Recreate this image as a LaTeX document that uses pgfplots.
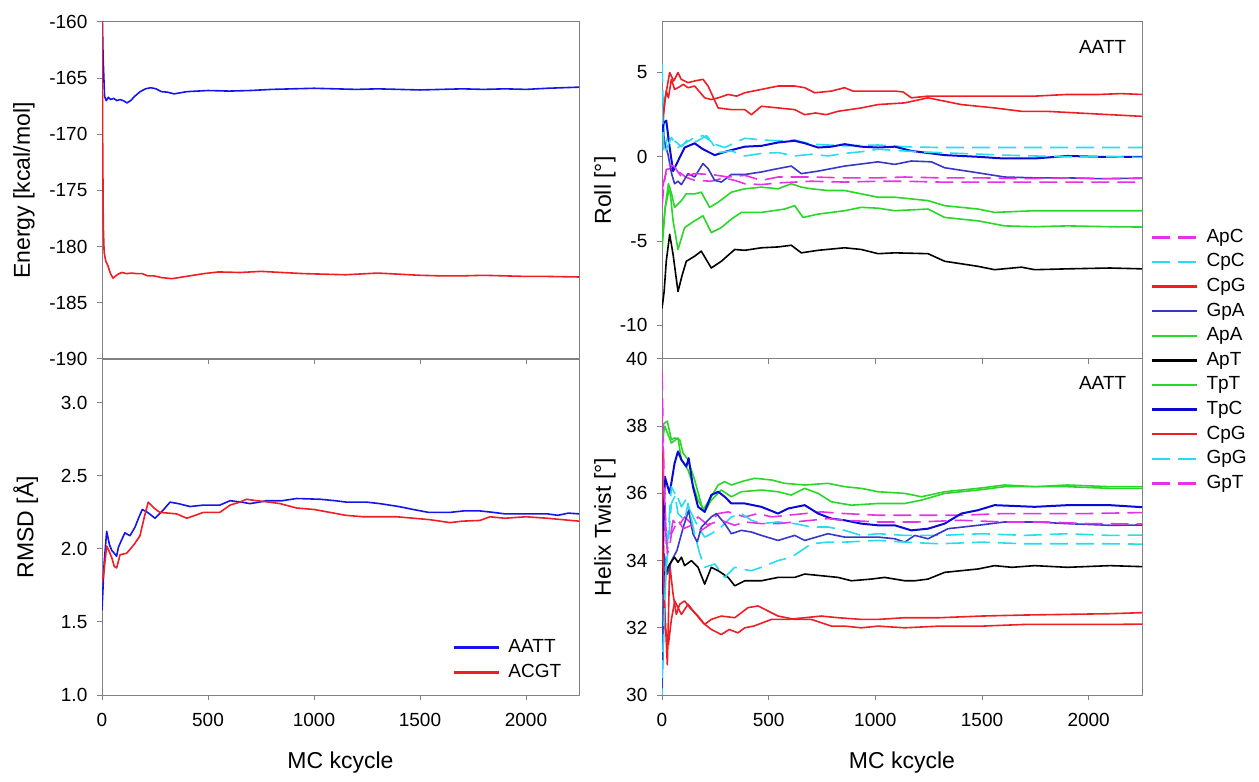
\documentclass[border=0pt]{standalone}
\usepackage{fontspec}
\setmainfont{Liberation Sans}
\usepackage{pgfplots}
\pgfplotsset{compat=1.18}

\definecolor{framegray}{RGB}{128,128,128}
\definecolor{cred}{RGB}{238,30,36}
\definecolor{cblue}{RGB}{20,20,235}
\definecolor{cgpa}{RGB}{55,55,200}
\definecolor{ctpc}{RGB}{10,10,215}
\definecolor{cgreen}{RGB}{40,215,40}
\definecolor{ccyan}{RGB}{40,220,240}
\definecolor{cmag}{RGB}{230,50,230}

\pgfplotsset{
  panel/.style={
    scale only axis,
    xmin=0, xmax=2250,
    xtick={0,500,1000,1500,2000},
    axis line style={framegray, line width=0.5pt},
    tick style={framegray, line width=0.5pt},
    tick align=outside,
    major tick length=2.5pt,
    xtick pos=left, ytick pos=left,
    clip mode=individual,
    ticklabel style={font=\fontsize{9.5}{11}\selectfont},
    xticklabel style={yshift=-3pt},
    yticklabel style={xshift=-1.3pt},
    label style={font=\fontsize{11.5}{13}\selectfont},
    /pgf/number format/assume math mode=true,
    /pgf/number format/1000 sep={},
    every axis plot/.append style={line width=0.8pt, line join=round},
    legend cell align=left,
    legend image code/.code={\draw[line width=1.15pt,##1] (0pt,0pt) -- (22.5pt,0pt); \path (26pt,0pt);},
  },
  dashedline/.style={dash pattern=on 9pt off 4pt},
}

\begin{document}
\begin{tikzpicture}
\path[use as bounding box] (0,0) rectangle (629.5pt,391pt);

% ---------------- Energy ----------------
\begin{axis}[panel,
  at={(51pt,211.5pt)}, anchor=south west,
  width=238.5pt, height=168.5pt,
  ymin=-190, ymax=-160, ytick={-190,-185,...,-160},
  xticklabels={},
  ylabel={Energy [kcal/mol]},
  ylabel style={at={(rel axis cs:-0.1635,0.5)}, anchor=center},
]
\addplot[cblue] coordinates {
(0,-158) (5,-163) (12,-166.6) (20,-167.0) (30,-166.7) (40,-166.9) (55,-166.8) (70,-167.0)
(85,-166.9) (100,-167.0) (118,-167.2) (135,-167.0) (155,-166.6) (180,-166.2) (205,-165.95)
(230,-165.85) (255,-165.95) (280,-166.2) (310,-166.25) (340,-166.4) (370,-166.3) (400,-166.2)
(450,-166.15) (500,-166.1) (600,-166.15) (700,-166.1) (800,-166.0) (900,-165.95) (1000,-165.9)
(1100,-165.95) (1200,-166.0) (1300,-165.95) (1400,-166.0) (1500,-166.05) (1600,-166.0)
(1700,-165.95) (1800,-166.0) (1900,-165.95) (2000,-166.0) (2100,-165.9) (2250,-165.8)
};
\addplot[cred] coordinates {
(0,-158) (3,-170) (6,-178) (10,-180.5) (18,-181.3) (28,-181.7) (40,-182.4) (52,-182.8)
(65,-182.6) (80,-182.4) (95,-182.3) (115,-182.4) (140,-182.35) (165,-182.4) (190,-182.4)
(215,-182.6) (245,-182.6) (280,-182.75) (330,-182.85) (380,-182.7) (430,-182.55) (480,-182.4)
(550,-182.25) (650,-182.3) (750,-182.2) (850,-182.3) (950,-182.4) (1050,-182.45) (1150,-182.5)
(1300,-182.35) (1400,-182.45) (1500,-182.55) (1600,-182.6) (1700,-182.6) (1800,-182.55)
(1900,-182.6) (2000,-182.65) (2100,-182.65) (2250,-182.7)
};
\end{axis}

% ---------------- RMSD ----------------
\begin{axis}[panel,
  at={(51pt,43.5pt)}, anchor=south west,
  width=238.5pt, height=168pt,
  ymin=1.0, ymax=3.3, ytick={1.0,1.5,2.0,2.5,3.0},
  yticklabel style={/pgf/number format/.cd, fixed, fixed zerofill, precision=1},
  xlabel={MC kcycle},
  xlabel style={at={(rel axis cs:0.5,-0.2024)}, anchor=center},
  ylabel={RMSD [Å]},
  ylabel style={at={(rel axis cs:-0.16,0.5)}, anchor=center},
  legend style={at={(rel axis cs:0.734,0.1756)}, anchor=north west, draw=none, fill=none,
    inner sep=0pt, font=\fontsize{9.5}{11}\selectfont, row sep=1.5pt,
    nodes={inner sep=1pt, text height=7pt, text depth=2pt}},
]
\addplot[cblue] coordinates {
(0,1.58) (10,1.9) (22,2.12) (35,2.03) (46,1.99) (58,1.97) (69,1.95) (77,2.01) (92,2.06)
(108,2.11) (132,2.09) (156,2.15) (175,2.22) (190,2.27) (215,2.25) (250,2.21) (285,2.26)
(321,2.32) (360,2.31) (415,2.29) (480,2.30) (556,2.30) (604,2.33) (660,2.32) (698,2.31)
(740,2.32) (777,2.33) (850,2.33) (918,2.345) (1028,2.34) (1100,2.33) (1154,2.32) (1250,2.32)
(1311,2.31) (1400,2.29) (1468,2.27) (1540,2.25) (1594,2.25) (1642,2.25) (1705,2.26)
(1783,2.26) (1846,2.25) (1900,2.24) (2000,2.24) (2100,2.24) (2150,2.23) (2200,2.245) (2250,2.24)
};
\addlegendentry{AATT}
\addplot[cred] coordinates {
(0,1.77) (8,1.83) (22,2.02) (35,1.98) (46,1.94) (58,1.88) (69,1.87) (80,1.93) (85,1.96)
(116,1.97) (140,2.01) (156,2.04) (179,2.09) (200,2.22) (218,2.32) (245,2.28) (273,2.25)
(352,2.24) (400,2.21) (440,2.23) (478,2.25) (556,2.25) (604,2.30) (650,2.32) (682,2.34)
(730,2.33) (790,2.32) (840,2.31) (918,2.28) (1000,2.27) (1075,2.25) (1150,2.23) (1233,2.22)
(1300,2.22) (1390,2.22) (1470,2.21) (1547,2.20) (1642,2.18) (1700,2.19) (1783,2.195)
(1830,2.22) (1900,2.21) (2000,2.22) (2100,2.21) (2250,2.19)
};
\addlegendentry{ACGT}
\end{axis}

% ---------------- Roll ----------------
\begin{axis}[panel,
  at={(331pt,211.5pt)}, anchor=south west,
  width=240pt, height=168.5pt,
  ymin=-12, ymax=8, ytick={-10,-5,0,5},
  xticklabels={},
  ylabel={Roll [°]},
  ylabel style={at={(rel axis cs:-0.119,0.5)}, anchor=center},
  legend style={at={(rel axis cs:1.0167,0.3947)}, anchor=north west, draw=none, fill=none,
    inner sep=0pt, font=\fontsize{9.5}{11}\selectfont, row sep=1.3pt,
    nodes={inner sep=1pt, text height=7pt, text depth=2pt}},
]
% ApC
\addplot[cmag, dashedline] coordinates {
(0,-3) (8,-1.8) (20,-0.75) (40,-0.7) (75,-0.85) (110,-1.2) (153,-1.4) (231,-1.45) (290,-1.25)
(341,-1.4) (388,-1.6) (466,-1.65) (544,-1.55) (700,-1.45) (856,-1.5) (1013,-1.45) (1138,-1.45)
(1300,-1.5) (1500,-1.5) (1700,-1.5) (1900,-1.5) (2100,-1.5) (2250,-1.5)
};
\addlegendentry{ApC}
% CpC
\addplot[ccyan, dashedline] coordinates {
(0,5.5) (8,2.0) (13,0.55) (28,1.25) (59,0.95) (91,0.6) (122,1.05) (160,0.9) (208,1.25)
(247,0.75) (294,0.55) (388,1.1) (466,1.0) (544,0.95) (622,1.0) (700,0.75) (856,0.65)
(1013,0.7) (1138,0.6) (1300,0.55) (1500,0.55) (1700,0.55) (1900,0.55) (2100,0.55) (2250,0.55)
};
\addlegendentry{CpC}
% CpG
\addplot[cred] coordinates {
(0,1.5) (15,3.5) (36,5.0) (55,4.5) (75,5.0) (90,4.6) (122,4.4) (153,4.5) (192,4.6) (216,4.2)
(263,2.9) (325,2.8) (388,2.8) (419,2.5) (466,3.0) (544,2.9) (622,2.8) (669,2.5) (720,2.6)
(770,2.5) (825,2.7) (934,2.9) (1013,3.1) (1138,3.2) (1247,3.5) (1403,3.1) (1559,2.9)
(1685,2.7) (1800,2.7) (1950,2.6) (2100,2.5) (2250,2.4)
};
\addlegendentry{CpG}
% GpA
\addplot[cgpa] coordinates {
(0,2.0) (6,1.5) (13,0.8) (28,0.15) (45,-1.0) (59,-1.6) (75,-1.45) (91,-1.65) (122,-1.0)
(153,-1.2) (192,-0.4) (216,-0.7) (247,-1.4) (278,-1.5) (325,-1.05) (388,-1.05) (466,-0.9)
(544,-0.7) (606,-0.55) (653,-1.0) (732,-0.85) (856,-0.55) (1013,-0.3) (1091,-0.45)
(1169,-0.25) (1263,-0.3) (1325,-0.65) (1481,-0.95) (1606,-1.2) (1747,-1.25) (1900,-1.25)
(2050,-1.3) (2250,-1.27)
};
\addlegendentry{GpA}
% ApA
\addplot[cgreen] coordinates {
(0,-5.5) (15,-3.0) (36,-1.8) (52,-3.8) (75,-5.5) (106,-4.2) (153,-3.8) (192,-3.5) (231,-4.5)
(278,-4.2) (325,-3.7) (372,-3.3) (466,-3.3) (575,-3.1) (622,-2.9) (661,-3.6) (732,-3.4)
(856,-3.2) (934,-3.0) (1013,-3.05) (1091,-3.2) (1247,-3.1) (1325,-3.6) (1481,-3.8)
(1606,-4.1) (1747,-4.15) (1900,-4.1) (2100,-4.15) (2250,-4.17)
};
\addlegendentry{ApA}
% ApT
\addplot[black] coordinates {
(0,-9.0) (10,-8.0) (20,-6.2) (36,-4.6) (52,-5.8) (75,-8.0) (95,-7.0) (114,-6.2) (153,-5.9)
(184,-5.6) (231,-6.6) (278,-6.2) (341,-5.5) (388,-5.55) (466,-5.4) (544,-5.35) (606,-5.25)
(653,-5.7) (732,-5.55) (856,-5.4) (934,-5.5) (1013,-5.75) (1091,-5.7) (1247,-5.75)
(1325,-6.2) (1481,-6.5) (1559,-6.7) (1685,-6.55) (1747,-6.7) (1900,-6.65) (2100,-6.6) (2250,-6.65)
};
\addlegendentry{ApT}
% TpT
\addplot[cgreen] coordinates {
(0,-5.0) (15,-3.0) (30,-1.6) (45,-2.2) (59,-3.0) (91,-2.6) (114,-2.2) (153,-2.2) (184,-2.1)
(223,-3.0) (263,-2.7) (325,-2.1) (388,-1.9) (466,-1.8) (544,-1.9) (606,-1.6) (653,-1.8)
(700,-1.9) (778,-2.0) (856,-2.0) (934,-2.2) (1013,-2.4) (1091,-2.4) (1247,-2.6) (1325,-2.9)
(1481,-3.1) (1559,-3.3) (1747,-3.2) (1900,-3.2) (2100,-3.2) (2250,-3.2)
};
\addlegendentry{TpT}
% TpC
\addplot[ctpc, line width=1.0pt] coordinates {
(0,1.5) (8,2.0) (20,2.15) (36,0.55) (52,-0.85) (75,-0.25) (106,0.55) (153,0.8) (192,0.45)
(247,0.1) (310,0.35) (388,0.6) (466,0.65) (544,0.85) (622,0.95) (670,0.8) (732,0.55)
(794,0.6) (856,0.75) (934,0.6) (1013,0.55) (1091,0.6) (1169,0.35) (1325,0.1) (1481,0.0)
(1600,-0.1) (1747,-0.1) (1900,0.05) (2050,0.0) (2250,0.0)
};
\addlegendentry{TpC}
% CpG
\addplot[cred] coordinates {
(0,2.0) (20,3.9) (30,3.5) (44,4.6) (59,4.0) (75,4.1) (100,4.3) (122,4.1) (153,4.2) (200,3.5)
(231,3.4) (263,3.5) (310,3.7) (350,3.6) (388,3.8) (466,4.0) (544,4.2) (622,4.2) (669,4.1)
(716,3.8) (794,3.9) (856,4.1) (895,3.9) (934,3.9) (1013,3.9) (1091,3.9) (1130,3.85)
(1169,3.5) (1247,3.6) (1481,3.6) (1747,3.6) (1900,3.7) (2050,3.7) (2150,3.75) (2250,3.7)
};
\addlegendentry{CpG}
% GpG
\addplot[ccyan, dashedline] coordinates {
(0,3) (10,0.15) (44,1.15) (75,0.55) (153,1.15) (192,1.25) (231,0.9) (263,0.25) (325,0.35)
(388,0.05) (466,0.2) (544,0.25) (622,0.05) (700,0.15) (778,0.05) (856,0.2) (934,0.3)
(1013,0.45) (1091,0.38) (1200,0.3) (1400,0.2) (1600,0.1) (1747,0.05) (1900,0.0) (2100,0.0) (2250,-0.04)
};
\addlegendentry{GpG}
% GpT
\addplot[cmag, dashedline] coordinates {
(0,-2) (13,-1.2) (36,-0.45) (59,-0.6) (91,-1.2) (153,-1.0) (231,-1.05) (310,-1.2) (388,-1.1)
(466,-1.4) (544,-1.2) (700,-1.2) (856,-1.25) (1013,-1.25) (1138,-1.2) (1300,-1.25)
(1500,-1.25) (1700,-1.3) (1900,-1.25) (2100,-1.3) (2250,-1.27)
};
\addlegendentry{GpT}
\node[font=\fontsize{9.5}{11}\selectfont] at (rel axis cs:0.918,0.926) {AATT};
\end{axis}

% ---------------- Helix Twist ----------------
\begin{axis}[panel,
  at={(331pt,43.5pt)}, anchor=south west,
  width=240pt, height=168pt,
  ymin=30, ymax=40, ytick={30,32,...,40},
  xlabel={MC kcycle},
  xlabel style={at={(rel axis cs:0.5,-0.2024)}, anchor=center},
  ylabel={Helix Twist [°]},
  ylabel style={at={(rel axis cs:-0.119,0.5)}, anchor=center},
]
% ApC
\addplot[cmag, dashedline] coordinates {
(0,39.6) (8,37) (20,34.5) (36,34.6) (52,35.2) (75,35.0) (106,35.3) (138,35.1) (169,35.3)
(216,35.05) (263,35.4) (310,35.45) (388,35.3) (450,35.4) (513,35.3) (591,35.35) (669,35.4)
(747,35.45) (856,35.4) (1013,35.35) (1200,35.35) (1400,35.35) (1600,35.4) (1800,35.4)
(2000,35.4) (2250,35.43)
};
% CpC
\addplot[ccyan, dashedline] coordinates {
(0,30) (13,33.0) (28,34.4) (44,35.7) (67,36.0) (91,35.6) (110,35.8) (138,35.4) (170,35.0)
(200,34.7) (231,34.8) (278,35.0) (325,35.3) (372,35.4) (419,35.2) (466,35.1) (544,35.15)
(622,35.1) (700,35.0) (778,35.0) (856,34.9) (934,34.75) (1013,34.8) (1138,34.75) (1300,34.75)
(1500,34.8) (1700,34.75) (1900,34.8) (2100,34.75) (2250,34.76)
};
% CpG
\addplot[cred] coordinates {
(0,37.5) (10,33) (25,30.9) (36,33.9) (52,33.0) (67,32.4) (83,32.7) (106,32.8) (130,32.6)
(169,32.35) (200,32.1) (231,32.25) (278,32.35) (341,32.3) (403,32.6) (450,32.65) (497,32.5)
(544,32.35) (622,32.25) (700,32.25) (747,32.15) (794,32.05) (856,32.05) (934,32.0)
(1013,32.05) (1138,32.0) (1300,32.05) (1500,32.05) (1700,32.1) (1900,32.1) (2100,32.1) (2250,32.11)
};
% GpA
\addplot[cgpa] coordinates {
(0,30.2) (10,34.2) (25,33.6) (45,34.0) (70,34.3) (100,35.0) (125,35.5) (145,34.8) (165,34.55)
(185,35.0) (231,35.3) (255,35.4) (294,35.1) (325,34.8) (372,34.9) (419,34.85) (466,34.75)
(544,34.6) (622,34.75) (669,34.6) (778,34.8) (856,34.7) (1013,34.7) (1091,34.65) (1138,34.55)
(1185,34.75) (1247,34.65) (1341,34.95) (1481,35.05) (1606,35.15) (1750,35.15) (1900,35.1)
(2100,35.05) (2250,35.06)
};
% ApA
\addplot[cgreen] coordinates {
(0,37.5) (13,38.0) (44,37.5) (75,37.65) (91,37.0) (122,36.7) (169,35.8) (200,35.45) (231,35.8)
(278,36.1) (325,35.9) (372,36.05) (466,36.1) (544,36.05) (606,35.95) (669,36.15) (732,36.0)
(794,35.75) (888,35.65) (1013,35.7) (1138,35.7) (1216,35.8) (1325,36.0) (1481,36.1)
(1606,36.2) (1750,36.2) (1900,36.2) (2100,36.15) (2250,36.15)
};
% ApT
\addplot[black] coordinates {
(0,33.5) (20,33.7) (36,33.9) (59,34.1) (75,33.95) (91,34.1) (106,33.85) (138,34.0) (169,33.8)
(200,33.3) (231,33.8) (263,33.7) (310,33.5) (341,33.25) (388,33.4) (466,33.4) (544,33.5)
(622,33.5) (669,33.6) (747,33.55) (825,33.5) (888,33.4) (981,33.45) (1044,33.5) (1138,33.4)
(1185,33.4) (1247,33.45) (1325,33.65) (1481,33.75) (1559,33.85) (1640,33.8) (1747,33.85)
(1900,33.8) (2100,33.85) (2250,33.82)
};
% TpT
\addplot[cgreen] coordinates {
(0,38.0) (13,38.1) (25,38.15) (44,37.6) (59,37.65) (83,37.6) (99,37.2) (122,37.0) (153,36.4)
(192,35.5) (231,35.9) (263,36.25) (294,36.35) (325,36.25) (372,36.35) (435,36.45) (513,36.4)
(575,36.3) (669,36.25) (778,36.3) (856,36.2) (934,36.15) (1013,36.05) (1138,36.0) (1216,35.9)
(1325,36.05) (1481,36.15) (1606,36.25) (1750,36.2) (1900,36.25) (2100,36.2) (2250,36.2)
};
% TpC
\addplot[ctpc, line width=1.0pt] coordinates {
(0,33) (13,36.5) (36,36.0) (59,36.9) (75,37.25) (91,37.0) (114,36.8) (125,37.05) (145,36.2)
(169,35.6) (200,35.45) (231,35.95) (263,36.05) (294,35.9) (325,35.7) (388,35.7) (466,35.6)
(544,35.4) (591,35.55) (669,35.65) (732,35.4) (794,35.25) (856,35.2) (934,35.1) (1013,35.05)
(1091,35.05) (1169,34.9) (1247,34.95) (1325,35.1) (1403,35.4) (1481,35.5) (1559,35.65)
(1747,35.6) (1900,35.65) (2100,35.65) (2250,35.59)
};
% CpG
\addplot[cred] coordinates {
(0,35) (15,32) (30,31.5) (44,32.25) (60,32.8) (75,32.6) (91,32.4) (122,32.7) (153,32.45)
(192,32.15) (231,31.95) (278,31.8) (315,31.95) (356,31.85) (388,32.0) (430,32.05) (513,32.25)
(591,32.25) (669,32.3) (747,32.35) (825,32.3) (934,32.25) (1013,32.25) (1138,32.3) (1300,32.3)
(1500,32.35) (1700,32.38) (1900,32.4) (2100,32.42) (2250,32.45)
};
% GpG
\addplot[ccyan, dashedline] coordinates {
(0,30.5) (20,34.0) (44,36.2) (60,36.0) (75,35.4) (106,35.2) (122,35.7) (153,34.8) (177,34.2)
(200,33.8) (247,33.9) (294,33.5) (341,33.8) (372,33.75) (419,33.7) (466,33.8) (544,34.0)
(606,34.1) (653,34.3) (700,34.5) (778,34.55) (856,34.55) (1013,34.6) (1138,34.55) (1300,34.5)
(1500,34.55) (1700,34.5) (1900,34.5) (2100,34.5) (2250,34.49)
};
% GpT
\addplot[cmag, dashedline] coordinates {
(0,38.5) (10,36) (25,34.2) (36,34.4) (44,34.8) (75,35.2) (100,34.95) (138,35.05) (184,34.9)
(231,35.1) (278,35.2) (341,35.05) (388,35.15) (466,35.1) (544,35.1) (622,35.15) (700,35.2)
(778,35.25) (856,35.2) (1013,35.15) (1200,35.15) (1400,35.2) (1600,35.15) (1800,35.15)
(2000,35.1) (2250,35.09)
};
\node[font=\fontsize{9.5}{11}\selectfont] at (rel axis cs:0.918,0.929) {AATT};
\end{axis}
\end{tikzpicture}
\end{document}
